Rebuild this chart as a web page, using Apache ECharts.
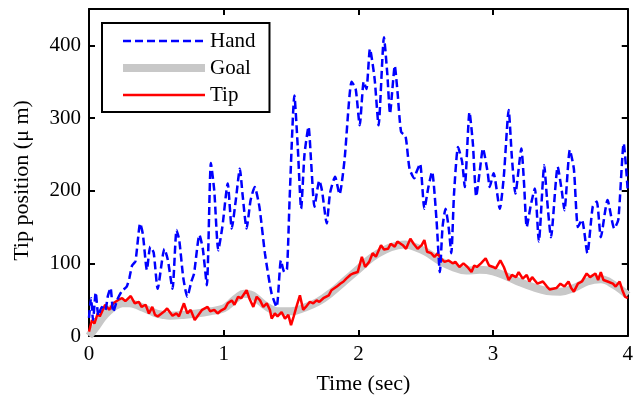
<!DOCTYPE html>
<html>
<head>
<meta charset="utf-8">
<script src="https://cdn.jsdelivr.net/npm/echarts@6/dist/echarts.min.js"></script>
<style>
html,body{margin:0;padding:0;background:#fff;}
#chart{width:636px;height:400px;}
</style>
</head>
<body>
<div id="chart"></div>
<script>
// Tick values
const xTicks = [0, 1, 2, 3, 4];
const yTicks = [0, 100, 200, 300, 400];

// Hand position [time (sec), µm]
const hand = [
[0.00,25],[0.015,52],[0.03,22],[0.05,60],[0.07,28],[0.095,40],[0.12,35],[0.14,55],[0.16,66],[0.18,33],
[0.21,50],[0.245,62],[0.28,68],[0.30,80],[0.32,97],[0.345,103],[0.38,155],[0.40,140],[0.43,91],[0.455,123],
[0.48,115],[0.51,65],[0.56,120],[0.585,105],[0.62,65],[0.65,146],[0.67,132],[0.70,80],[0.73,54],[0.76,75],
[0.78,86],[0.82,139],[0.845,120],[0.875,70],[0.905,238],[0.93,200],[0.96,118],[0.99,150],[1.03,210],[1.06,148],
[1.09,187],[1.12,230],[1.14,195],[1.17,148],[1.20,187],[1.23,205],[1.265,178],[1.306,114],[1.355,59],[1.393,40],
[1.425,104],[1.45,88],[1.47,92],[1.49,191],[1.525,331],[1.55,260],[1.575,175],[1.60,250],[1.63,288],[1.65,237],
[1.674,178],[1.71,214],[1.73,200],[1.765,155],[1.79,197],[1.827,219],[1.86,195],[1.897,242],[1.95,350],[1.98,340],
[2.01,290],[2.04,350],[2.06,340],[2.086,395],[2.12,355],[2.15,290],[2.19,411],[2.215,360],[2.235,306],[2.255,345],
[2.27,372],[2.29,337],[2.317,281],[2.35,275],[2.38,230],[2.416,217],[2.43,225],[2.458,237],[2.49,175],[2.52,205],
[2.547,226],[2.58,160],[2.605,88],[2.625,150],[2.647,175],[2.67,150],[2.69,114],[2.71,195],[2.74,260],[2.77,240],
[2.79,205],[2.825,308],[2.85,265],[2.875,192],[2.90,225],[2.925,258],[2.96,225],[2.975,205],[3.004,224],[3.05,175],
[3.08,220],[3.116,311],[3.14,245],[3.166,196],[3.21,258],[3.23,210],[3.25,150],[3.28,180],[3.31,203],[3.34,130],
[3.38,235],[3.40,190],[3.43,136],[3.48,233],[3.51,200],[3.53,173],[3.57,256],[3.60,230],[3.63,150],[3.66,160],
[3.70,114],[3.74,178],[3.77,185],[3.80,136],[3.85,187],[3.90,148],[3.93,160],[3.97,265],[4.00,200]
];

// Goal position [time (sec), µm]
const goal = [
[0,0],[0.05,12],[0.1,25],[0.15,35],[0.2,42],[0.25,45],[0.3,45],[0.35,43],[0.4,39],[0.45,35],
[0.5,31],[0.55,29],[0.6,28],[0.7,29],[0.8,31],[0.9,34],[1.0,38],[1.05,45],[1.1,53],[1.15,58],
[1.2,57],[1.25,51],[1.3,43],[1.35,37],[1.4,34],[1.5,34],[1.6,39],[1.7,47],[1.8,60],[1.9,76],
[2.0,92],[2.1,108],[2.2,119],[2.3,125],[2.35,126],[2.4,124],[2.5,116],[2.6,104],[2.7,95],[2.8,90],
[2.9,91],[3.0,89],[3.1,82],[3.2,74],[3.3,67],[3.4,62],[3.5,61],[3.6,66],[3.7,75],[3.8,78],
[3.9,70],[4.0,56]
];

// Tip position [time (sec), µm]
const tip = [
[0,6],[0.022,22],[0.04,17],[0.065,31],[0.08,27],[0.12,43],[0.15,36],[0.18,45],[0.22,50],[0.246,52],
[0.27,48],[0.31,55],[0.34,45],[0.37,47],[0.39,40],[0.42,43],[0.445,31],[0.47,40],[0.49,29],[0.51,27],
[0.56,34],[0.58,38],[0.62,28],[0.65,31],[0.668,27],[0.705,45],[0.73,31],[0.755,36],[0.785,22],[0.82,31],
[0.84,36],[0.88,40],[0.90,34],[0.93,36],[0.955,31],[0.98,35],[1.01,38],[1.03,45],[1.06,49],[1.08,43],
[1.107,54],[1.13,52],[1.17,63],[1.19,52],[1.22,40],[1.245,54],[1.27,49],[1.294,40],[1.32,45],[1.343,36],
[1.356,24],[1.38,31],[1.40,27],[1.43,33],[1.455,24],[1.48,29],[1.50,15],[1.52,27],[1.54,40],[1.566,56],
[1.59,36],[1.61,40],[1.64,47],[1.665,45],[1.69,49],[1.71,47],[1.74,52],[1.78,56],[1.80,63],[1.84,68],
[1.865,72],[1.89,75],[1.91,79],[1.94,84],[1.96,86],[1.995,88],[2.026,109],[2.05,95],[2.08,102],[2.106,114],
[2.13,109],[2.168,125],[2.19,119],[2.22,120],[2.24,127],[2.27,123],[2.29,130],[2.33,125],[2.354,120],[2.386,134],
[2.41,127],[2.44,120],[2.47,125],[2.49,132],[2.51,116],[2.54,114],[2.565,109],[2.59,114],[2.61,107],[2.64,102],
[2.67,104],[2.70,100],[2.72,102],[2.75,95],[2.78,100],[2.81,95],[2.84,88],[2.86,97],[2.88,95],[2.91,100],
[2.945,107],[2.97,97],[3.0,95],[3.02,93],[3.054,104],[3.08,95],[3.116,77],[3.14,84],[3.17,81],[3.19,88],
[3.22,79],[3.25,84],[3.27,75],[3.29,81],[3.33,72],[3.37,75],[3.40,68],[3.42,64],[3.47,66],[3.50,72],
[3.53,68],[3.56,75],[3.58,66],[3.60,61],[3.63,72],[3.66,75],[3.695,86],[3.72,81],[3.76,86],[3.78,77],
[3.80,88],[3.82,77],[3.85,75],[3.89,72],[3.91,68],[3.94,75],[3.96,63],[3.98,54],[4.0,52]
];

const FONT = "'Liberation Serif', 'Times New Roman', serif";
const chart = echarts.init(document.getElementById('chart'), null, {renderer: 'canvas'});

const xMin = xTicks[0], xMax = xTicks[xTicks.length - 1], xStep = xTicks[1] - xTicks[0];
const yMin = yTicks[0], yStep = yTicks[1] - yTicks[0];
const yMax = 450;

const HAND_DASH = [8, 4];

function baseAxis(extra) {
  return Object.assign({
    type: 'value',
    splitLine: {show: false},
    axisLine: {show: true, onZero: false, lineStyle: {color: '#000', width: 2}},
    axisTick: {show: true, inside: true, length: 6, lineStyle: {color: '#000', width: 2}},
  }, extra);
}

chart.setOption({
  backgroundColor: '#fff',
  animation: false,
  grid: {left: 89, right: 7, top: 9, bottom: 64},
  legend: {
    orient: 'vertical',
    left: 102, top: 23,
    padding: [7, 14, 6, 17],
    itemGap: 5,
    itemWidth: 82,
    itemHeight: 14,
    borderColor: '#000',
    borderWidth: 2,
    backgroundColor: '#fff',
    itemStyle: {color: 'rgba(0,0,0,0)', borderWidth: 0, opacity: 0},
    textStyle: {fontFamily: FONT, fontSize: 21, color: '#000', lineHeight: 22},
    data: [
      {name: 'Hand', lineStyle: {color: '#0000ff', width: 2.5, type: HAND_DASH}},
      {name: 'Goal', lineStyle: {color: '#c8c8c8', width: 8}},
      {name: 'Tip', lineStyle: {color: '#ff0000', width: 2.5}}
    ]
  },
  xAxis: [
    baseAxis({
      position: 'bottom', min: xMin, max: xMax, interval: xStep,
      axisLabel: {color: '#000', fontFamily: FONT, fontSize: 21, margin: 8},
      name: 'Time (sec)', nameLocation: 'middle', nameGap: 37,
      nameTextStyle: {color: '#000', fontFamily: FONT, fontSize: 22, padding: [0, 0, 0, 10]}
    }),
    baseAxis({position: 'top', min: xMin, max: xMax, interval: xStep, axisLabel: {show: false}})
  ],
  yAxis: [
    baseAxis({
      position: 'left', min: yMin, max: yMax, interval: yStep,
      axisLabel: {color: '#000', fontFamily: FONT, fontSize: 21, margin: 8, showMaxLabel: false},
      name: 'Tip position (μ m)', nameLocation: 'middle', nameGap: 56,
      nameTextStyle: {color: '#000', fontFamily: FONT, fontSize: 22, padding: [0, 16, 0, 0]}
    }),
    baseAxis({position: 'right', min: yMin, max: yMax, interval: yStep, axisLabel: {show: false}})
  ],
  series: [
    {
      name: 'Goal', type: 'line', data: goal, symbol: 'none', smooth: 0.4,
      lineStyle: {color: '#c8c8c8', width: 8}, itemStyle: {color: '#c8c8c8'}, z: 2
    },
    {
      name: 'Tip', type: 'line', data: tip, symbol: 'none',
      lineStyle: {color: '#ff0000', width: 2.5}, itemStyle: {color: '#ff0000'}, z: 3
    },
    {
      name: 'Hand', type: 'line', data: hand, symbol: 'none', smooth: 0.2,
      lineStyle: {color: '#0000ff', width: 2.5, type: HAND_DASH}, itemStyle: {color: '#0000ff'}, z: 4
    }
  ]
});
</script>
</body>
</html>
